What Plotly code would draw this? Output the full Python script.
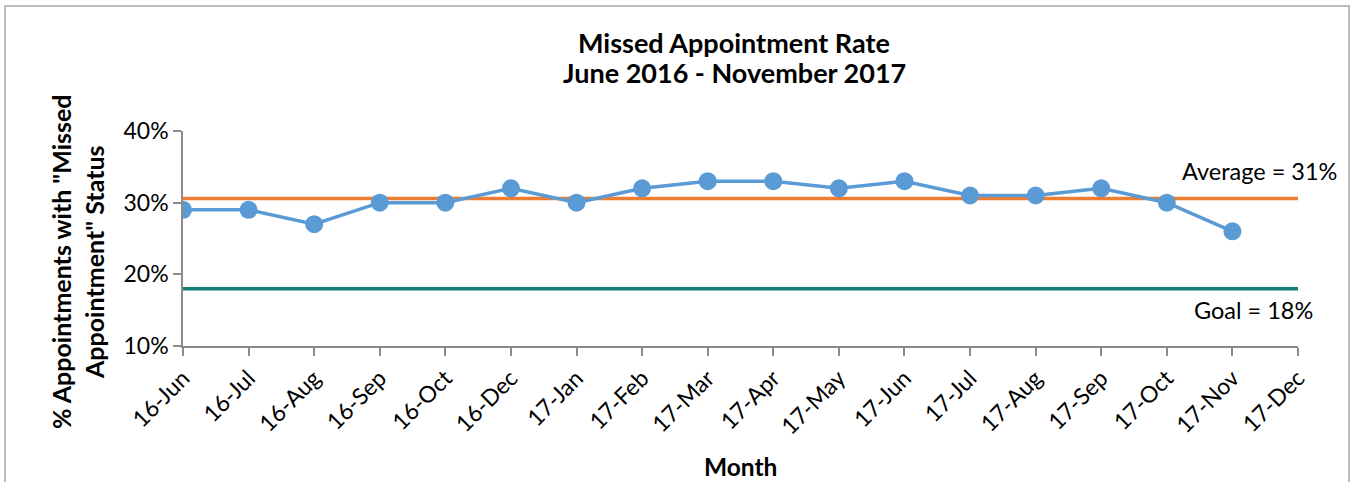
import plotly.graph_objects as go

months = ["16-Jun", "16-Jul", "16-Aug", "16-Sep", "16-Oct", "16-Dec", "17-Jan", "17-Feb",
          "17-Mar", "17-Apr", "17-May", "17-Jun", "17-Jul", "17-Aug", "17-Sep", "17-Oct",
          "17-Nov", "17-Dec"]
rates = [29, 29, 27, 30, 30, 32, 30, 32, 33, 33, 32, 33, 31, 31, 32, 30, 26, None]
goal_value = 18

valid = [v for v in rates if v is not None]
average_value = sum(valid) / len(valid)

FONT = "Lato, Calibri, sans-serif"
W, H = 1353, 482
L, R, T, B = 183, 55, 131, 136
pw = W - L - R
ph = H - T - B

fig = go.Figure()
fig.add_trace(go.Scatter(x=months, y=[goal_value] * len(months), mode="lines",
                         line=dict(color="#138073", width=3.5), hoverinfo="skip"))
fig.add_trace(go.Scatter(x=months, y=[average_value] * len(months), mode="lines",
                         line=dict(color="#ED7D31", width=3.5), hoverinfo="skip"))
fig.add_trace(go.Scatter(x=months, y=rates, mode="lines+markers",
                         line=dict(color="#5B9BD5", width=3.5),
                         marker=dict(color="#5B9BD5", size=18)))

def px_x(p):
    return (p - L) / pw

def px_y(p):
    return (H - B - p) / ph

fig.update_layout(
    width=W, height=H,
    margin=dict(l=L, r=R, t=T, b=B),
    paper_bgcolor="white", plot_bgcolor="white",
    showlegend=False,
    font=dict(family=FONT, color="#000000"),
    xaxis=dict(type="category", range=[0, len(months) - 1], showgrid=False,
               showline=True, linecolor="#8c8c8c", linewidth=1.5,
               ticks="outside", ticklen=8, tickcolor="#8c8c8c", tickwidth=1.5,
               tickangle=-45, tickfont=dict(size=23, family=FONT), zeroline=False),
    yaxis=dict(range=[10, 40], dtick=10, ticksuffix="%", showgrid=False,
               showline=True, linecolor="#8c8c8c", linewidth=1.5,
               ticks="outside", ticklen=8, tickcolor="#8c8c8c", tickwidth=1.5,
               tickfont=dict(size=23, family=FONT), zeroline=False),
    shapes=[dict(type="rect", xref="paper", yref="paper",
                 x0=px_x(5), x1=px_x(1349), y0=px_y(495), y1=px_y(6),
                 line=dict(color="#a6a6a6", width=1.5), layer="below")],
    annotations=[
        dict(text="<b>Missed Appointment Rate</b>", xref="paper", yref="paper",
             x=px_x(734), y=px_y(42), xanchor="center", yanchor="middle",
             showarrow=False, font=dict(size=27, family=FONT)),
        dict(text="<b>June 2016 - November 2017</b>", xref="paper", yref="paper",
             x=px_x(734), y=px_y(73), xanchor="center", yanchor="middle",
             showarrow=False, font=dict(size=27, family=FONT)),
        dict(text="<b>Month</b>", xref="paper", yref="paper",
             x=px_x(740), y=px_y(466), xanchor="center", yanchor="middle",
             showarrow=False, font=dict(size=24.5, family=FONT)),
        dict(text="<b>% Appointments with \"Missed<br>Appointment\" Status</b>",
             xref="paper", yref="paper", x=px_x(77), y=px_y(262),
             xanchor="center", yanchor="middle", textangle=-90,
             showarrow=False, font=dict(size=25, family=FONT)),
        dict(text="Average = 31%", xref="paper", yref="paper",
             x=px_x(1339), y=px_y(171), xanchor="right", yanchor="middle",
             showarrow=False, font=dict(size=23.5, family=FONT)),
        dict(text="Goal = 18%", xref="paper", yref="paper",
             x=px_x(1315), y=px_y(310), xanchor="right", yanchor="middle",
             showarrow=False, font=dict(size=23.5, family=FONT)),
    ],
)

fig.write_html("out.html", config={"displayModeBar": False},
               post_script="document.body.style.margin='0';")
